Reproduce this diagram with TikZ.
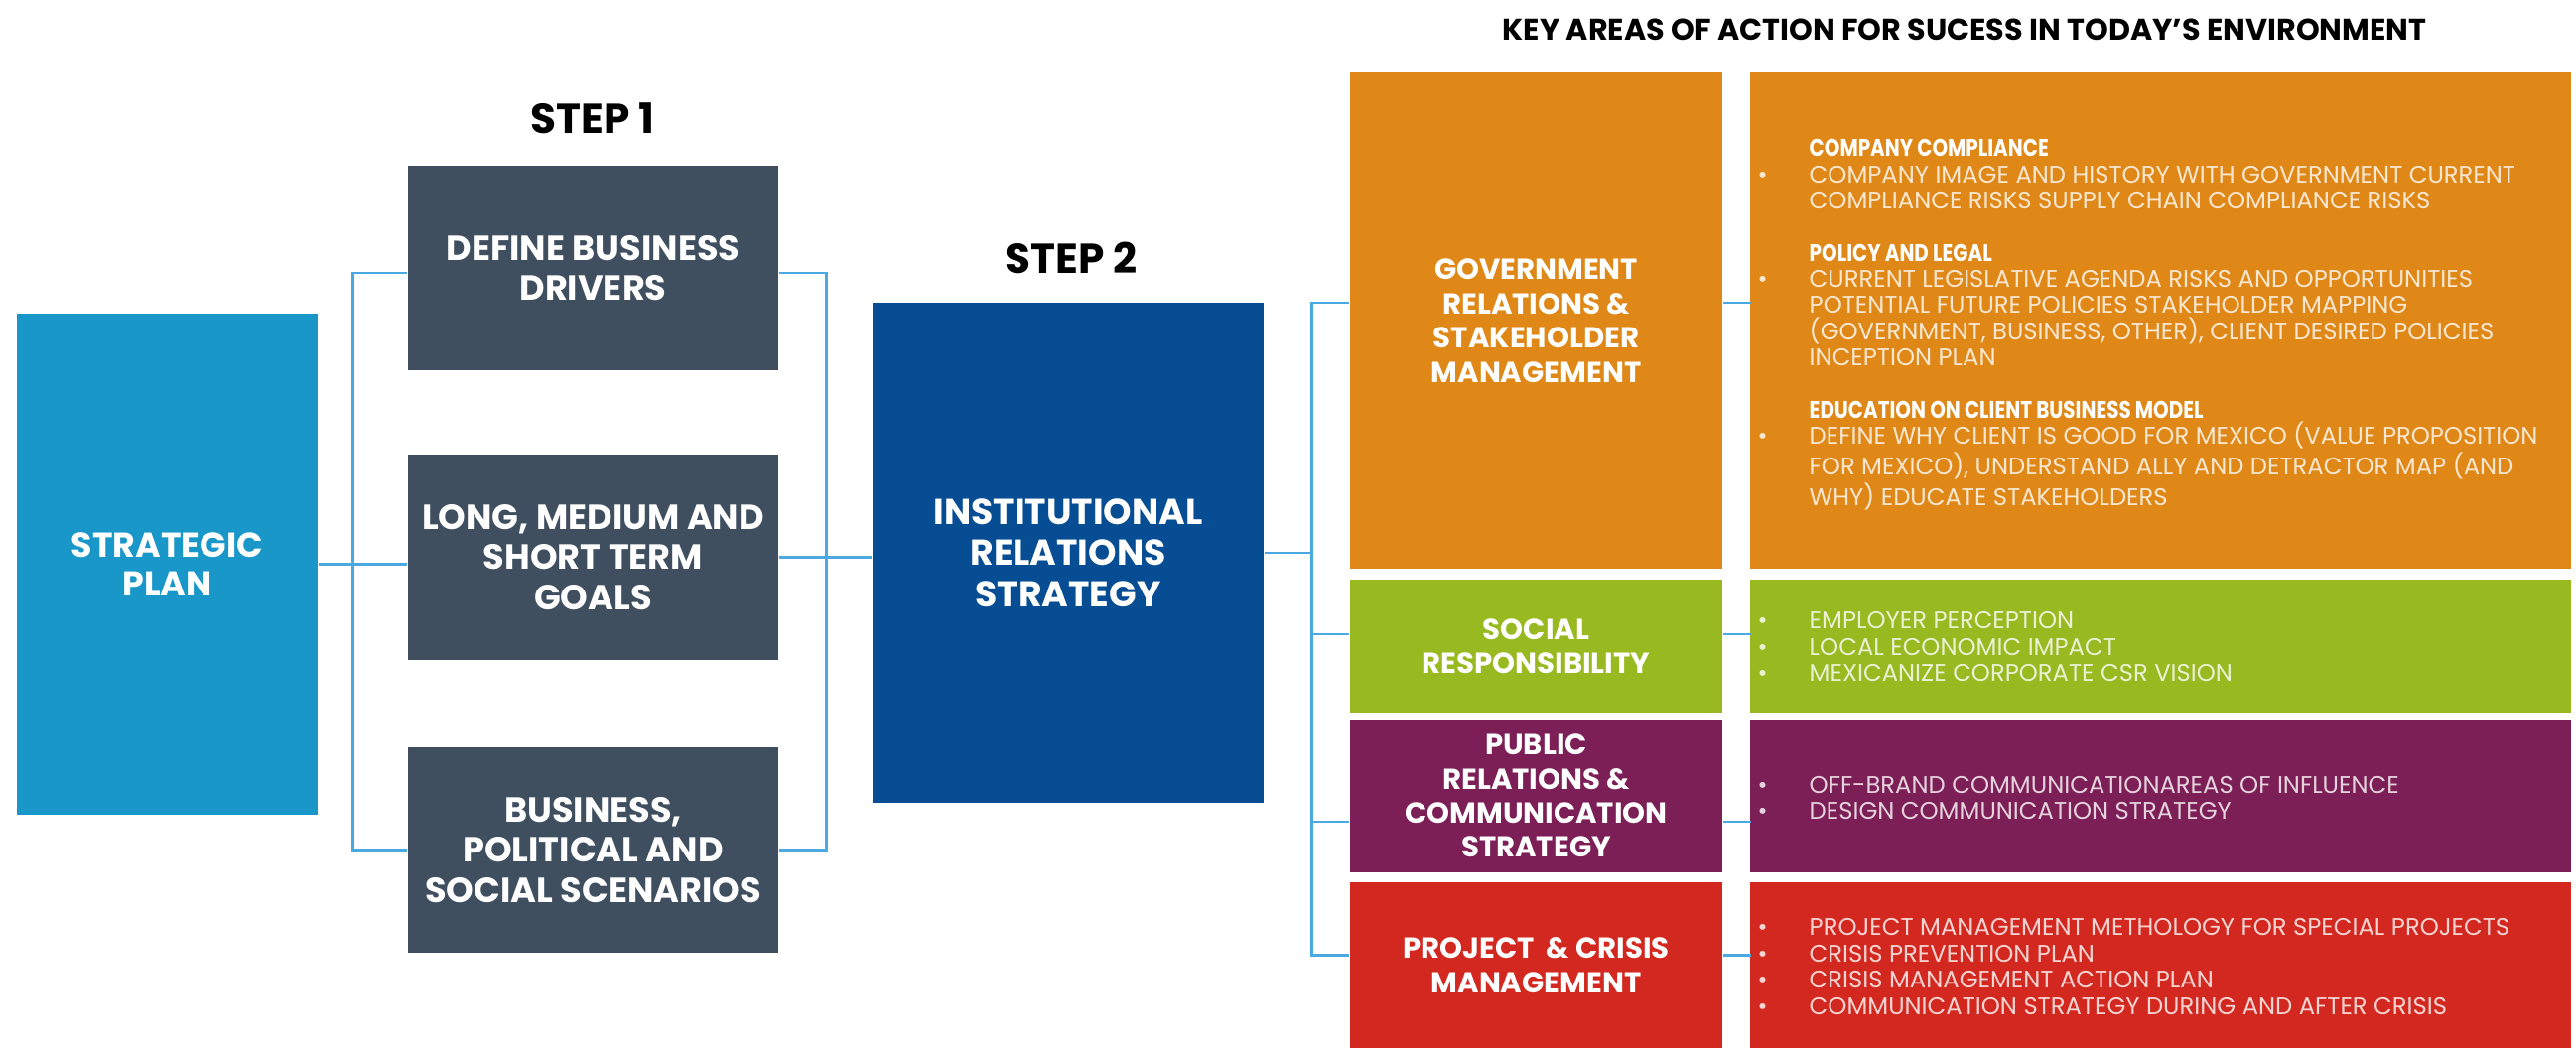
\documentclass[tikz,border=0pt]{standalone}
\usepackage{fontspec}
\setmainfont{Poppins}
\newfontfamily\listfont{Poppins}
\newfontfamily\listhead[FakeStretch=0.82]{Poppins}
\usepackage{xcolor}
\definecolor{planblue}{HTML}{1A97C9}
\definecolor{slate}{HTML}{3F4F5F}
\definecolor{navy}{HTML}{074D93}
\definecolor{govorange}{HTML}{E08817}
\definecolor{socgreen}{HTML}{98B920}
\definecolor{pubpurple}{HTML}{7C1F56}
\definecolor{projred}{HTML}{D2281F}
\definecolor{linkblue}{HTML}{4BA9E2}
\newcommand{\itm}{\llap{\textbullet\hspace{.42cm}}}
\newcommand{\hd}[1]{{\color{white}\listhead\bfseries #1}}

\begin{document}
\begin{tikzpicture}[x=0.01cm, y=-0.01cm,
        box/.style={fill=#1, text=white, align=center, inner sep=0pt},
        stepbox/.style={box=slate, minimum width=3.73cm, minimum height=2.06cm,
            font=\bfseries\fontsize{10}{11.4}\selectfont},
        areabox/.style={box=#1, minimum width=3.75cm,
            font=\bfseries\fontsize{8.3}{9.8}\selectfont},
        detbox/.style={box=#1, minimum width=8.27cm},
        listtext/.style={text=white!80!#1, anchor=west, align=left, inner sep=0pt,
            font=\listfont\fontsize{6.9}{7.5}\selectfont},
        steplabel/.style={font=\bfseries\fontsize{12}{14}\selectfont},
        link/.style={draw=linkblue, line width=0.8pt}]
                \useasboundingbox (0,0) rectangle (2595,1056);

                \node[box=planblue, minimum width=3.03cm, minimum height=5.05cm,
                    font=\bfseries\fontsize{9.9}{11.2}\selectfont] (plan) at (168.5,568.5) {STRATEGIC\\PLAN};

                \node[steplabel] (step1) at (597,119) {STEP 1};
                \node[stepbox] (drivers) at (597.5,270) {DEFINE BUSINESS\\DRIVERS};
                \node[stepbox] (goals) at (597.5,561.5) {LONG, MEDIUM AND\\SHORT TERM\\GOALS};
                \node[stepbox] (scen) at (597.5,856.5) {BUSINESS,\\POLITICAL AND\\SOCIAL SCENARIOS};

                \node[steplabel] (step2) at (1079,260) {STEP 2};
                \node[box=navy, minimum width=3.94cm, minimum height=5.04cm,
                    font=\bfseries\fontsize{10.3}{11.8}\selectfont] (irs) at (1076,557) {INSTITUTIONAL\\RELATIONS\\STRATEGY};

                \node[font=\bfseries\fontsize{8.6}{10}\selectfont] (keytitle) at (1979,30)
                    {KEY AREAS OF ACTION FOR SUCESS IN TODAY’S ENVIRONMENT};

                \node[areabox=govorange, minimum height=5.00cm] (gov) at (1547.5,323)
                    {GOVERNMENT\\RELATIONS \&\\STAKEHOLDER\\MANAGEMENT};
                \node[areabox=socgreen, minimum height=1.34cm] (soc) at (1547.5,651)
                    {SOCIAL\\RESPONSIBILITY};
                \node[areabox=pubpurple, minimum height=1.54cm] (pub) at (1547.5,802)
                    {PUBLIC\\RELATIONS \&\\COMMUNICATION\\STRATEGY};
                \node[areabox=projred, minimum height=1.67cm] (proj) at (1547.5,972.5)
                    {PROJECT \ \& CRISIS\\MANAGEMENT};

                \node[detbox=govorange, minimum height=5.00cm] (govd) at (2176.5,323) {};
                \node[detbox=socgreen, minimum height=1.34cm] (socd) at (2176.5,651) {};
                \node[detbox=pubpurple, minimum height=1.54cm] (pubd) at (2176.5,802) {};
                \node[detbox=projred, minimum height=1.67cm] (projd) at (2176.5,972.5) {};

                \node[listtext=govorange] (govtxt) at (1822,327) {\hd{COMPANY COMPLIANCE}\\
                    \itm COMPANY IMAGE AND HISTORY WITH GOVERNMENT CURRENT\\
                    COMPLIANCE RISKS SUPPLY CHAIN COMPLIANCE RISKS\\[7.5pt]
                    \hd{POLICY AND LEGAL}\\
                    \itm CURRENT LEGISLATIVE AGENDA RISKS AND OPPORTUNITIES\\
                    POTENTIAL FUTURE POLICIES STAKEHOLDER MAPPING\\
                    (GOVERNMENT, BUSINESS, OTHER), CLIENT DESIRED POLICIES\\
                    INCEPTION PLAN\\[7.5pt]
                    \hd{EDUCATION ON CLIENT BUSINESS MODEL}\\
                    \itm DEFINE WHY CLIENT IS GOOD FOR MEXICO (VALUE PROPOSITION\\
                    FOR MEXICO), UNDERSTAND ALLY AND DETRACTOR MAP (AND\\
                    WHY) EDUCATE STAKEHOLDERS};
                \node[listtext=socgreen] (soctxt) at (1822,651.5) {\itm EMPLOYER PERCEPTION\\
                    \itm LOCAL ECONOMIC IMPACT\\
                    \itm MEXICANIZE CORPORATE CSR VISION};
                \node[listtext=pubpurple] (pubtxt) at (1822,804) {\itm OFF-BRAND COMMUNICATIONAREAS OF INFLUENCE\\
                    \itm DESIGN COMMUNICATION STRATEGY};
                \node[listtext=projred] (projtxt) at (1822,974) {\itm PROJECT MANAGEMENT METHOLOGY FOR SPECIAL PROJECTS\\
                    \itm CRISIS PREVENTION PLAN\\
                    \itm CRISIS MANAGEMENT ACTION PLAN\\
                    \itm COMMUNICATION STRATEGY DURING AND AFTER CRISIS};

                \draw[link] (plan.east) -- (plan.east -| goals.west);
                \draw[link] ([yshift=-.05cm]drivers.west) -- ++(-55,0) |- (scen.west);
                \draw[link] ([yshift=-.05cm]drivers.east) -- ++(48,0) |- (scen.east);
                \draw[link] (goals.east) -- (goals.east -| irs.west);

                \draw[link] (irs.east) -- ++(49,0);
                \draw[link] ([yshift=.18cm]gov.west) -- ++(-38,0) |- ([yshift=.10cm]proj.west);
                \draw[link] ([yshift=.12cm]soc.west) -- ++(-38,0);
                \draw[link] ([yshift=-.26cm]pub.west) -- ++(-38,0);

                \draw[link] ([yshift=.18cm]gov.east) -- ++(28,0);
                \draw[link] ([yshift=.12cm]soc.east) -- ++(28,0);
                \draw[link] ([yshift=-.26cm]pub.east) -- ++(28,0);
                \draw[link] ([yshift=.10cm]proj.east) -- ++(28,0);
            \end{tikzpicture}
\end{document}
